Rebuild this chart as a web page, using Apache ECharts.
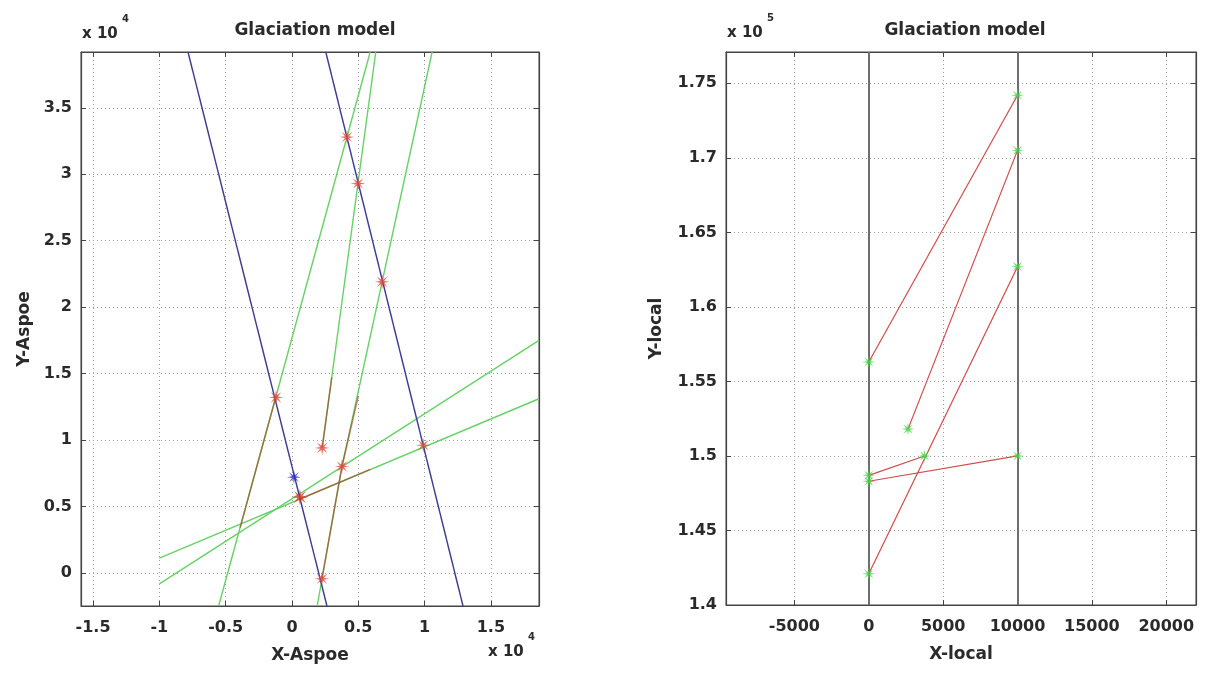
<!DOCTYPE html>
<html>
<head>
<meta charset="utf-8">
<script src="https://cdn.jsdelivr.net/npm/echarts@6/dist/echarts.min.js"></script>
<style>
  html, body { margin: 0; padding: 0; background: #fff; }
  #main { width: 1205px; height: 684px; }
</style>
</head>
<body>
<div id="main"></div>
<script>
// ---------- Left panel: Äspö coordinates (values in units of 1e4 m) ----------
const aspoeXTicks = [-1.5, -1, -0.5, 0, 0.5, 1, 1.5];
const aspoeYTicks = [0, 0.5, 1, 1.5, 2, 2.5, 3, 3.5];

// two steep blue traces
const blueLines = [
  [[-0.784, 3.92], [0.264, -0.25]],
  [[0.255, 3.92], [1.29, -0.25]]
];
// green traces
const greenLines = [
  [[-0.553, -0.25], [0.590, 3.92]],
  [[0.228, 0.94], [0.632, 3.92]],
  [[0.19, -0.25], [0.377, 0.80], [0.68, 2.19], [1.057, 3.92]],
  [[-1.0, -0.083], [1.863, 1.75]],
  [[-1.0, 0.11], [1.863, 1.31]]
];
// red connecting traces
const redLines = [
  [[-0.391, 0.34], [-0.12, 1.33]],
  [[0.06, 0.555], [0.59, 0.778]],
  [[0.226, -0.045], [0.377, 0.80], [0.50, 1.33]],
  [[0.228, 0.94], [0.30, 1.47]]
];
const redStars = [
  [-0.12, 1.32], [0.415, 3.28], [0.498, 2.93], [0.68, 2.19],
  [0.99, 0.96], [0.228, 0.94], [0.377, 0.80], [0.226, -0.045]
];
const mainRedStar = [[0.06, 0.57]];
const blueStars = [[0.015, 0.72]];

// ---------- Right panel: local coordinates (y in units of 1e5 m) ----------
const localXTicks = [-5000, 0, 5000, 10000, 15000, 20000];
const localYTicks = [1.4, 1.45, 1.5, 1.55, 1.6, 1.65, 1.7, 1.75];
const localBounds = [0, 10000];
const localSegments = [
  [[0, 1.563], [10000, 1.742]],
  [[2635, 1.518], [10000, 1.705]],
  [[0, 1.421], [10000, 1.627]],
  [[0, 1.487], [3750, 1.500]],
  [[0, 1.483], [10000, 1.500]]
];
const localStars = [
  [0, 1.563], [10000, 1.742], [2635, 1.518], [10000, 1.705],
  [0, 1.421], [10000, 1.627], [3750, 1.500], [0, 1.487],
  [0, 1.483], [10000, 1.500]
];

// ---------- styling helpers ----------
const FONT = "'DejaVu Sans', Verdana, sans-serif";
const TXT = '#2a2a2a';

function starPath(n, inner) {
  let d = '';
  for (let i = 0; i < 2 * n; i++) {
    const r = i % 2 ? inner : 1;
    const a = Math.PI * i / n - Math.PI / 2;
    d += (i ? 'L' : 'M') + (r * Math.cos(a)).toFixed(3) + ' ' + (r * Math.sin(a)).toFixed(3);
  }
  return 'path://' + d + 'Z';
}
const STAR = starPath(8, 0.3);

const plain = v => String(v);

function mainAxis(pos, gridIndex, min, max, ticks, name, nameGap, labelMargin) {
  return {
    type: 'value', gridIndex, position: pos, min, max,
    name, nameLocation: 'middle', nameGap,
    nameTextStyle: { fontFamily: FONT, fontSize: 17, fontWeight: 'bold', color: TXT },
    axisLine: { show: true, onZero: false, lineStyle: { color: '#444', width: 1.2 } },
    axisTick: { show: true, inside: true, length: 5, customValues: ticks, lineStyle: { color: '#444' } },
    axisLabel: { show: true, customValues: ticks, formatter: plain, fontFamily: FONT, fontSize: 16,
                 fontWeight: 'bold', color: TXT, margin: labelMargin },
    splitLine: { show: true, lineStyle: { color: '#a0a0a0', type: [1, 3], width: 1 } },
    minorTick: { show: false }
  };
}
function mirrorAxis(pos, gridIndex, min, max, ticks) {
  return {
    type: 'value', gridIndex, position: pos, min, max,
    axisLine: { show: true, onZero: false, lineStyle: { color: '#444', width: 1.2 } },
    axisTick: { show: true, inside: true, length: 5, customValues: ticks, lineStyle: { color: '#444' } },
    axisLabel: { show: false },
    splitLine: { show: false }
  };
}

const L = { xMin: -1.591, xMax: 1.863, yMin: -0.25, yMax: 3.92 };
const R = { xMin: -9600, xMax: 22000, yMin: 1.4, yMax: 1.771 };

const series = [];
blueLines.forEach(pts => series.push({
  type: 'line', xAxisIndex: 0, yAxisIndex: 0, data: pts, symbol: 'none', silent: true,
  lineStyle: { color: '#3c3c96', width: 1.4 }, z: 3
}));
greenLines.forEach(pts => series.push({
  type: 'line', xAxisIndex: 0, yAxisIndex: 0, data: pts, symbol: 'none', silent: true,
  lineStyle: { color: '#66d266', width: 1.4 }, z: 2
}));
redLines.forEach(pts => series.push({
  type: 'line', xAxisIndex: 0, yAxisIndex: 0, data: pts, symbol: 'none', silent: true,
  lineStyle: { color: '#b03020', width: 1.5, opacity: 0.6 }, z: 4
}));
series.push({
  type: 'scatter', xAxisIndex: 0, yAxisIndex: 0, data: redStars, symbol: STAR, symbolSize: 15,
  itemStyle: { color: '#e0483e', opacity: 0.8 }, z: 5
});
series.push({
  type: 'scatter', xAxisIndex: 0, yAxisIndex: 0, data: mainRedStar, symbol: STAR, symbolSize: 17,
  itemStyle: { color: '#d6321e' }, z: 6
});
series.push({
  type: 'scatter', xAxisIndex: 0, yAxisIndex: 0, data: blueStars, symbol: STAR, symbolSize: 14,
  itemStyle: { color: '#2a2ac8' }, z: 6
});

// right panel
series.push({
  type: 'line', xAxisIndex: 2, yAxisIndex: 2, data: [], symbol: 'none', silent: true,
  markLine: {
    silent: true, symbol: 'none', label: { show: false },
    lineStyle: { color: '#6e6e6e', width: 2, type: 'solid' },
    data: localBounds.map(v => ({ xAxis: v }))
  }, z: 2
});
localSegments.forEach(pts => series.push({
  type: 'line', xAxisIndex: 2, yAxisIndex: 2, data: pts, symbol: 'none', silent: true,
  lineStyle: { color: '#d24a4a', width: 1.2 }, z: 3
}));
series.push({
  type: 'scatter', xAxisIndex: 2, yAxisIndex: 2, data: localStars, symbol: STAR, symbolSize: 13,
  itemStyle: { color: '#44d444' }, z: 5
});

function expLabel(x, y, base, exp) {
  return [
    { type: 'text', left: x, top: y, style: { text: base, font: 'bold 15px ' + FONT, fill: TXT } },
    { type: 'text', left: x + 40, top: y - 13, style: { text: exp, font: 'bold 10px ' + FONT, fill: TXT } }
  ];
}

const option = {
  animation: false,
  backgroundColor: '#ffffff',
  title: [
    { text: 'Glaciation model', left: 310, top: 17, textAlign: 'center',
      textStyle: { fontFamily: FONT, fontSize: 17, fontWeight: 'bold', color: TXT } },
    { text: 'Glaciation model', left: 960, top: 17, textAlign: 'center',
      textStyle: { fontFamily: FONT, fontSize: 17, fontWeight: 'bold', color: TXT } }
  ],
  grid: [
    { left: 81, top: 52, width: 458, height: 554, show: true, borderColor: '#444', borderWidth: 1, backgroundColor: '#fff' },
    { left: 726, top: 52, width: 470, height: 553, show: true, borderColor: '#444', borderWidth: 1, backgroundColor: '#fff' }
  ],
  xAxis: [
    mainAxis('bottom', 0, L.xMin, L.xMax, aspoeXTicks, 'X-Aspoe', 41, 14),
    mirrorAxis('top', 0, L.xMin, L.xMax, aspoeXTicks),
    mainAxis('bottom', 1, R.xMin, R.xMax, localXTicks, 'X-local', 41, 14),
    mirrorAxis('top', 1, R.xMin, R.xMax, localXTicks)
  ],
  yAxis: [
    mainAxis('left', 0, L.yMin, L.yMax, aspoeYTicks, 'Y-Aspoe', 48, 9),
    mirrorAxis('right', 0, L.yMin, L.yMax, aspoeYTicks),
    mainAxis('left', 1, R.yMin, R.yMax, localYTicks, 'Y-local', 61, 9),
    mirrorAxis('right', 1, R.yMin, R.yMax, localYTicks)
  ],
  graphic: [
    ...expLabel(82, 27, 'x 10', '4'),
    ...expLabel(488, 645, 'x 10', '4'),
    ...expLabel(727, 26, 'x 10', '5')
  ],
  series
};

const chart = echarts.init(document.getElementById('main'), null, { renderer: 'canvas' });
chart.setOption(option);
</script>
</body>
</html>
